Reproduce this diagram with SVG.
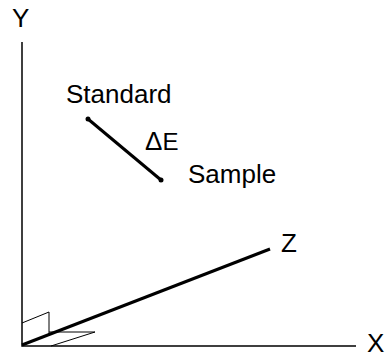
<svg xmlns="http://www.w3.org/2000/svg" width="386" height="362" viewBox="0 0 386 362">
<style>
text{font-family:"Liberation Sans",Arial,sans-serif;font-size:26px;fill:#000}
.ax{stroke:#000;stroke-width:1.5;fill:none}
.thin{stroke:#000;stroke-width:1;fill:none}
.thick{stroke:#000;stroke-width:3;fill:none}
</style>
<rect width="386" height="362" fill="#fff"/>
<g id="connectors">
<path class="ax" d="M22,42 V346 H356"/>
<path class="thick" d="M22,345 L270,249"/>
<path class="thin" d="M22,323 L49,312 V336"/>
<path class="thin" d="M49,332 H95 L51,346"/>
<path class="thick" d="M88,119 L161,180" stroke-width="2.5"/>
</g>
<g id="standard"><circle cx="88" cy="119" r="2.5"/><text x="66" y="103">Standard</text></g>
<g id="sample"><circle cx="161" cy="180" r="2.5"/><text x="188" y="183">Sample</text></g>
<g id="deltaE"><text x="145" y="150" font-size="22"><tspan>Δ</tspan><tspan font-size="24">E</tspan></text></g>
<g id="axisY"><text x="12" y="27">Y</text></g>
<g id="axisZ"><text x="281" y="252">Z</text></g>
<g id="axisX"><text x="367" y="352" font-size="25">X</text></g>
</svg>
